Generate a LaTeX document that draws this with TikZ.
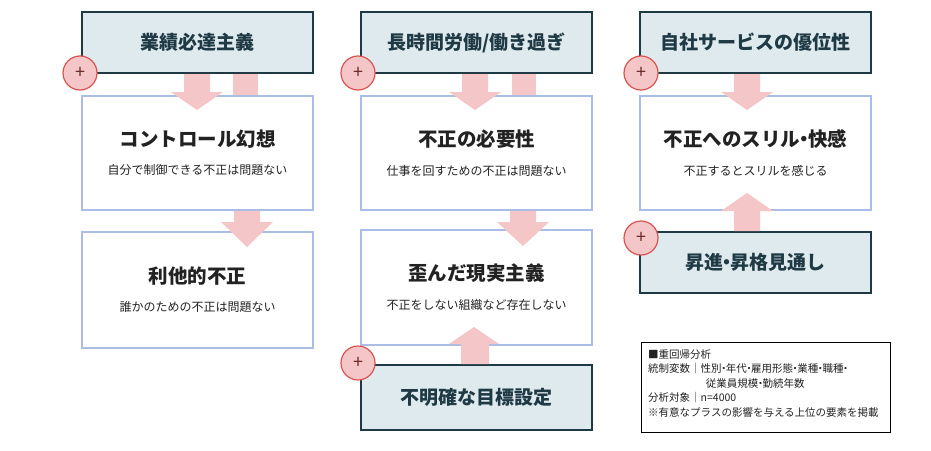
\documentclass[tikz,border=0pt]{standalone}
\usepackage{fontspec}
\setmainfont{Noto Sans CJK JP}
\definecolor{dk}{HTML}{1F3A44}
\definecolor{dkfill}{HTML}{DFEAEE}
\definecolor{bl}{HTML}{A9BDE5}
\definecolor{pk}{HTML}{F4C6C8}
\definecolor{pkb}{HTML}{D9534F}
\definecolor{txt}{HTML}{222222}
\newcommand\md{\kern-0.3em・\kern-0.3em}
\tikzset{
 dkbox/.style={draw=dk,line width=2pt,fill=dkfill,minimum width=231pt,minimum height=61pt,font=\fontsize{19}{22}\selectfont\bfseries,text=dk},
 wbox/.style={draw=bl,line width=2pt,fill=white,minimum width=231pt,align=center,text=txt},
 plus/.style={circle,draw=pkb,line width=1.2pt,fill=pk,minimum size=34pt,inner sep=0pt,font=\fontsize{18}{18}\selectfont,text=pkb!50!black},
}
\newcommand\ttl[2]{{\fontsize{19.5}{24}\selectfont\bfseries #1}\\[16pt]{\fontsize{12}{14}\selectfont #2}}
\newcommand\darr[4]{\fill[pk] (#1-13,#2) -- (#1+13,#2) -- (#1+13,#3) -- (#1+26,#3) -- (#1,#4) -- (#1-26,#3) -- (#1-13,#3) -- cycle;}
\begin{document}
\begin{tikzpicture}[x=1pt,y=-1pt]
\useasboundingbox[fill=white] (0,0) rectangle (931,450);
% column 1
\node[dkbox] (a1) at (197.5,42.5) {業績必達主義};
\node[wbox,minimum height=114pt] (a2) at (197.5,153) {\ttl{コントロール幻想}{自分で制御できる不正は問題ない}};
\node[wbox,minimum height=116pt] (a3) at (197.5,290) {\ttl{利他的不正}{誰かのための不正は問題ない}};
\fill[pk] (233,74) rectangle (258,95);
\darr{197}{74}{92}{110}
\darr{247}{211}{222}{247}
\node[plus] (p1) at (80,73) {+};
% column 2
\node[dkbox] (b1) at (476.5,42.5) {長時間労働/働き過ぎ};
\node[wbox,minimum height=114pt] (b2) at (476.5,153) {\ttl{不正の必要性}{仕事を回すための不正は問題ない}};
\node[wbox,minimum height=115pt] (b3) at (476.5,287.5) {\ttl{歪んだ現実主義}{不正をしない組織など存在しない}};
\node[dkbox,minimum height=65pt] (b4) at (476.5,397.5) {不明確な目標設定};
\fill[pk] (512,74) rectangle (536,95);
\darr{475}{74}{92}{110}
\darr{523}{211}{222}{246}
\fill[pk] (461,364) -- (489,364) -- (489,344) -- (499,344) -- (474,327) -- (449,344) -- (461,344) -- cycle;
\node[plus] (p2) at (358,73) {+};
\node[plus] (p3) at (358,363) {+};
% column 3
\node[dkbox] (c1) at (755.5,42.5) {自社サービスの優位性};
\node[wbox,minimum height=114pt] (c2) at (755.5,153) {\ttl{不正へのスリル\md 快感}{不正するとスリルを感じる}};
\node[dkbox] (c3) at (755.5,262) {昇進\md 昇格見通し};
\darr{747}{74}{92}{110}
\fill[pk] (734,231) -- (760,231) -- (760,211) -- (773,211) -- (747,193) -- (721,211) -- (734,211) -- cycle;
\node[plus] (p4) at (641,73) {+};
\node[plus] (p5) at (641,238) {+};
% legend
\node[draw=black,line width=0.8pt,minimum width=249pt,minimum height=90pt,inner sep=0pt] (lg) at (765.5,387) {};
\node[anchor=north west,align=left,font=\fontsize{10.5}{14.5}\selectfont,text=txt,inner sep=0pt] (lt) at (648,349)
 {■重回帰分析\\統制変数｜性別\md 年代\md 雇用形態\md 業種\md 職種\md\\\hspace{5.5em}従業員規模\md 勤続年数\\分析対象｜n=4000\\※有意なプラスの影響を与える上位の要素を掲載};
\end{tikzpicture}
\end{document}
